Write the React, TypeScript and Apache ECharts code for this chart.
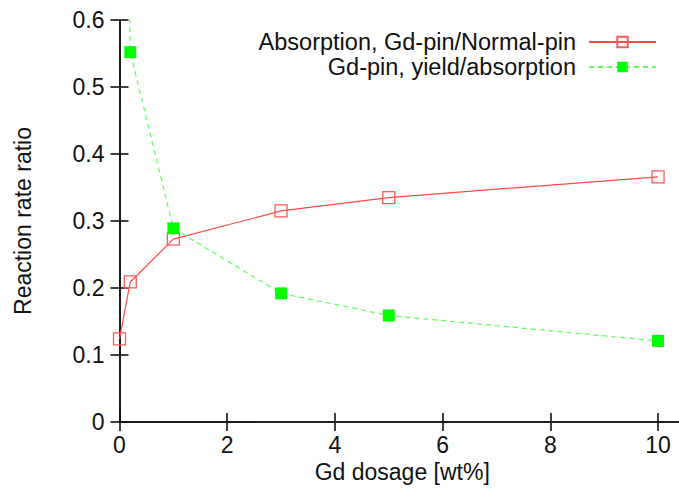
import React, { useEffect, useRef } from "react";
import * as echarts from "echarts";

const absorptionX = [0, 0.2, 1, 3, 5, 10];
const absorptionY = [0.124, 0.209, 0.273, 0.315, 0.335, 0.366];
const yieldX = [0, 0.2, 1, 3, 5, 10];
const yieldY = [2.0, 0.552, 0.289, 0.192, 0.159, 0.121];
const seriesNames = ["Absorption, Gd-pin/Normal-pin", "Gd-pin, yield/absorption"];
const xTitle = "Gd dosage [wt%]";
const yTitle = "Reaction rate ratio";

const FONT = "'Liberation Sans', Arial, sans-serif";
const CHART_W = 690;

export default function App() {
  const ref = useRef<HTMLDivElement>(null);
  useEffect(() => {
    if (!ref.current) return;
    const chart = echarts.init(ref.current, undefined, { renderer: "svg" });
    const axisLine = { show: true, lineStyle: { color: "#111", width: 1.6 } };
    const tick = { show: true, inside: true, length: 9, lineStyle: { color: "#111", width: 1.6 } };
    const label = { color: "#111", fontSize: 23, fontFamily: FONT };
    chart.setOption({
      animation: false,
      backgroundColor: "#fff",
      grid: { left: 119.5, top: 20, right: CHART_W - 685, bottom: 73, containLabel: false },
      legend: {
        orient: "vertical",
        right: CHART_W - 662,
        top: 25,
        align: "right",
        itemWidth: 67,
        itemHeight: 13,
        itemGap: 1,
        textStyle: { fontSize: 23.5, fontFamily: FONT, color: "#111", lineHeight: 22, padding: [0, 8, 0, 0] },
        data: seriesNames,
      },
      xAxis: [
        {
          type: "value",
          min: 0,
          max: 10.5,
          interval: 2,
          position: "bottom",
          name: xTitle,
          nameLocation: "middle",
          nameGap: 36,
          nameTextStyle: { fontSize: 23, fontFamily: FONT, color: "#111" },
          axisLine,
          axisTick: tick,
          axisLabel: {
            ...label,
            margin: 11,
            formatter: (v: number) => (Math.abs(v % 2) < 1e-9 ? String(v) : ""),
          },
          splitLine: { show: false },
        },
        {
          type: "value",
          min: 0,
          max: 10.5,
          interval: 2,
          position: "top",
          axisLine,
          axisTick: tick,
          axisLabel: { show: false },
          splitLine: { show: false },
        },
      ],
      yAxis: [
        {
          type: "value",
          min: 0,
          max: 0.6,
          interval: 0.1,
          position: "left",
          name: yTitle,
          nameLocation: "middle",
          nameGap: 85,
          nameTextStyle: { fontSize: 23, fontFamily: FONT, color: "#111" },
          axisLine,
          axisTick: tick,
          axisLabel: { ...label, margin: 15 },
          splitLine: { show: false },
        },
        {
          type: "value",
          min: 0,
          max: 0.6,
          interval: 0.1,
          position: "right",
          axisLine,
          axisTick: tick,
          axisLabel: { show: false },
          splitLine: { show: false },
        },
      ],
      series: [
        {
          name: seriesNames[0],
          type: "line",
          xAxisIndex: 0,
          yAxisIndex: 0,
          data: absorptionX.map((x, i) => [x, absorptionY[i]]),
          symbol: "rect",
          symbolSize: 12,
          clip: true,
          lineStyle: { color: "#ff4a4a", width: 1.2, type: "solid" },
          itemStyle: { color: "rgba(255,255,255,0)", borderColor: "#ff5a5a", borderWidth: 1.3 },
        },
        {
          name: seriesNames[1],
          type: "line",
          xAxisIndex: 0,
          yAxisIndex: 0,
          data: yieldX.map((x, i) => [x, yieldY[i]]),
          symbol: "rect",
          symbolSize: 12,
          clip: true,
          lineStyle: { color: "#5cff5c", width: 1.2, type: [5, 4] },
          itemStyle: { color: "#00ff00", borderColor: "#00ff00", borderWidth: 0 },
        },
      ],
    });
    return () => chart.dispose();
  }, []);
  return (
    <div style={{ position: "fixed", left: 0, top: 0, width: 679, height: 495, overflow: "hidden", background: "#fff" }}>
      <div ref={ref} style={{ width: CHART_W, height: 495 }} />
    </div>
  );
}
